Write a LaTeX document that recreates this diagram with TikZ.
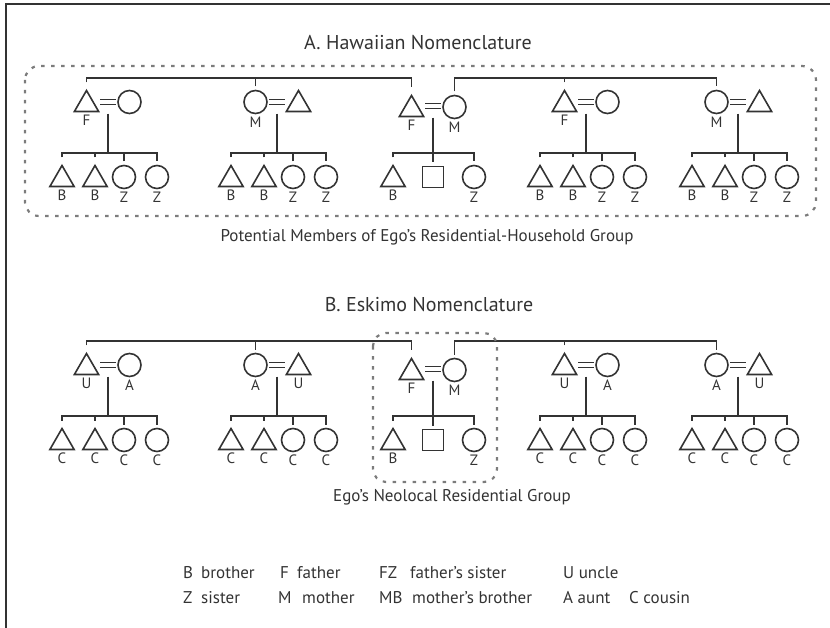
\documentclass[tikz,border=0pt]{standalone}
\usepackage{fontspec}
\setmainfont{PT Sans}
\usetikzlibrary{shapes.geometric}

\definecolor{ink}{HTML}{333333}
\definecolor{dotgray}{HTML}{7C7C7C}
\newcommand\labfont{\fontsize{15}{17}\selectfont}
\newcommand\titlefont{\fontsize{20}{23}\selectfont}
\newcommand\notefont{\fontsize{17}{20}\selectfont}
\newcommand\keyfont{\fontsize{17}{20}\selectfont}

\tikzset{
  line/.style={ink, line width=1.8pt},
  person/.style={draw=ink, line width=1.6pt, inner sep=0pt, outer sep=4pt},
  male/.style={person, regular polygon, regular polygon sides=3, minimum size=28pt, yshift=-2.5pt},
  female/.style={person, circle, minimum size=23pt},
  ego/.style={person, rectangle, minimum size=21pt},
  wed/.style={minimum width=15pt, minimum height=5pt, inner sep=0pt},
  group/.style={dotgray, line width=2.2pt, dash pattern=on 3.5pt off 6.5pt, rounded corners=14pt},
  title/.style={ink, font=\titlefont, inner sep=0pt},
  note/.style={ink, font=\notefont, inner sep=0pt},
  key/.style={ink, font=\keyfont, inner sep=0pt, anchor=base west},
  every label/.style={ink, inner sep=1pt, font=\labfont},
}

\begin{document}
\begin{tikzpicture}[x=1pt, y=-1pt, label distance=-2pt]
    \useasboundingbox (0,0) rectangle (830,628);
    % frame
    \draw[ink, line width=2pt] (830,4) -- (6,4) -- (6,628);

    % A. Hawaiian Nomenclature
    \node[title] (titleA) at (418,43) {A. Hawaiian Nomenclature};
    \coordinate (Atop) at (0,78);
    \coordinate (Akid) at (0,153);
    \foreach \f/\m/\lkind/\rkind/\lname/\rname in {1/108/male/female/F/{}, 2/277/female/male/M/{}, 4/586/male/female/F/{}, 5/738/female/male/M/{}}{
        \node[\lkind, label=below:\lname] (A\f-l) at (\m-21.5,102) {};
        \node[\rkind, label=below:\rname] (A\f-r) at (\m+21.5,102) {};
        \node[wed] (A\f-e) at (\m,102) {};
        \draw[line, double, double distance=3.2pt] (A\f-e.west) -- (A\f-e.east);
        \foreach \k/\kind/\dx/\kname in {1/male/0/B, 2/male/33/B, 3/female/62/Z, 4/female/95/Z}
            \node[\kind, label=below:\kname] (A\f-c\k) at (\m-46+\dx,177) {};
        \draw[line] (A\f-c1.north) -- (A\f-c1.north |- Akid) -| (A\f-c4.north);
        \draw[line] (A\f-c2.north) -- (A\f-c2.north |- Akid);
        \draw[line] (A\f-c3.north) -- (A\f-c3.north |- Akid);
        \draw[line, shorten <=9pt] (A\f-e.south) -- (A\f-e.south |- Akid);
    }
    % ego's family
    \node[male, label=below:F] (A3-l) at (411.5,107) {};
    \node[female, label=below:M] (A3-r) at (454.5,107) {};
    \node[wed] (A3-e) at (433,106) {};
    \draw[line, double, double distance=3.2pt] (A3-e.west) -- (A3-e.east);
    \node[male, label=below:B] (A3-c1) at (393,177) {};
    \node[ego] (A3-c2) at (433,177) {};
    \node[female, label=below:Z] (A3-c3) at (474,177) {};
    \draw[line] (A3-c1.north) -- (A3-c1.north |- Akid) -| (A3-c3.north);
    \draw[line, shorten <=9pt] (A3-e.south) -- (A3-c2.north);
    % sibling bars
    \draw[line] (A1-l.north) -- (A1-l.north |- Atop) -| (A3-l.north);
    \draw[line] (A2-l.north) -- (A2-l.north |- Atop);
    \draw[line] (A3-r.north) -- (A3-r.north |- Atop) -| (A5-l.north);
    \draw[line] (A4-l.north) -- (A4-l.north |- Atop);
    % household group
    \draw[group] (25,66) rectangle (816,216);
    \node[note] (noteA) at (427,237) {Potential Members of Ego's Residential-Household Group};

    % B. Eskimo Nomenclature
    \node[title] (titleB) at (429,305) {B. Eskimo Nomenclature};
    \coordinate (Btop) at (0,341);
    \coordinate (Bkid) at (0,416);
    \foreach \f/\m/\lkind/\rkind/\lname/\rname in {1/108/male/female/U/A, 2/277/female/male/A/U, 4/586/male/female/U/A, 5/738/female/male/A/U}{
        \node[\lkind, label=below:\lname] (B\f-l) at (\m-21.5,365) {};
        \node[\rkind, label=below:\rname] (B\f-r) at (\m+21.5,365) {};
        \node[wed] (B\f-e) at (\m,365) {};
        \draw[line, double, double distance=3.2pt] (B\f-e.west) -- (B\f-e.east);
        \foreach \k/\kind/\dx in {1/male/0, 2/male/33, 3/female/62, 4/female/95}
            \node[\kind, label=below:C] (B\f-c\k) at (\m-46+\dx,440) {};
        \draw[line] (B\f-c1.north) -- (B\f-c1.north |- Bkid) -| (B\f-c4.north);
        \draw[line] (B\f-c2.north) -- (B\f-c2.north |- Bkid);
        \draw[line] (B\f-c3.north) -- (B\f-c3.north |- Bkid);
        \draw[line, shorten <=9pt] (B\f-e.south) -- (B\f-e.south |- Bkid);
    }
    % ego's family
    \node[male, label=below:F] (B3-l) at (411.5,370) {};
    \node[female, label=below:M] (B3-r) at (454.5,370) {};
    \node[wed] (B3-e) at (433,369) {};
    \draw[line, double, double distance=3.2pt] (B3-e.west) -- (B3-e.east);
    \node[male, label=below:B] (B3-c1) at (393,440) {};
    \node[ego] (B3-c2) at (433,440) {};
    \node[female, label=below:Z] (B3-c3) at (474,440) {};
    \draw[line] (B3-c1.north) -- (B3-c1.north |- Bkid) -| (B3-c3.north);
    \draw[line, shorten <=9pt] (B3-e.south) -- (B3-c2.north);
    % sibling bars
    \draw[line] (B1-l.north) -- (B1-l.north |- Btop) -| (B3-l.north);
    \draw[line] (B2-l.north) -- (B2-l.north |- Btop);
    \draw[line] (B3-r.north) -- (B3-r.north |- Btop) -| (B5-l.north);
    \draw[line] (B4-l.north) -- (B4-l.north |- Btop);
    % neolocal group
    \draw[group, rounded corners=13pt] (373,333) rectangle (497,482);
    \node[note] (noteB) at (452,497) {Ego's Neolocal Residential Group};

    % key
    \foreach \n/\x/\y/\txt in {b/183/578/B, bt/201/578/brother, f/280/578/F, ft/297/578/father,
        fz/379/578/FZ, fzt/410/578/father's sister, u/563/578/U uncle,
        z/183/603/Z, zt/201/603/sister, m/278/603/M, mt/302/603/mother,
        mb/379/603/MB, mbt/412/603/mother's brother, a/563/603/A aunt, c/629/603/C cousin}
        \node[key] (key-\n) at (\x,\y) {\txt};
\end{tikzpicture}
\end{document}
